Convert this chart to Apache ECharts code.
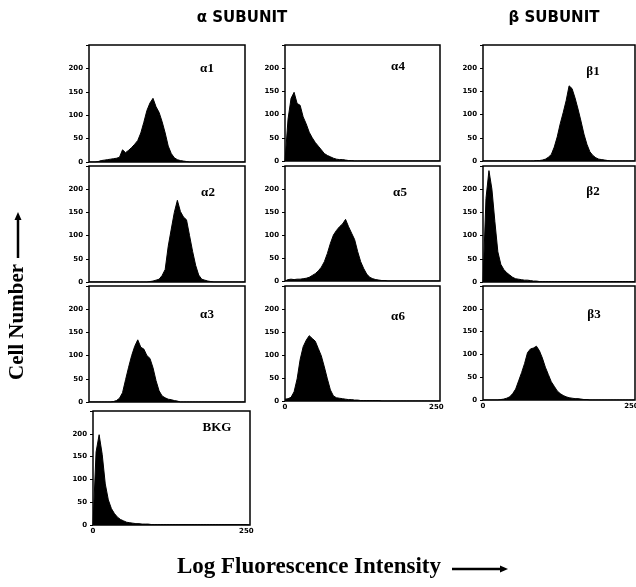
<!DOCTYPE html>
<html>
<head>
<meta charset="utf-8">
<script src="https://cdn.jsdelivr.net/npm/echarts@6/dist/echarts.min.js"></script>
<style>
  html, body { margin: 0; padding: 0; background: #fff; }
  #chart { width: 636px; height: 587px; }
</style>
</head>
<body>
<div id="chart"></div>
<script>
// histogram bin starts (log fluorescence channel)
var bins = [0,5,10,15,20,25,30,35,40,45, 50,55,60,65,70,75,80,85,90,95,
            100,105,110,115,120,125,130,135,140,145, 150,155,160,165,170,175,180,185,190,195,
            200,205,210,215,220,225,230,235,240,245, 250,255];

// cell counts per bin
var alpha1 = [0,0,0,1,3,4,5,6,7,8, 10,26,20,25,31,38,46,62,85,110, 126,136,118,106,86,62,34,18,9,5, 3,2,1,0,0,0,0,0,0,0, 0,0,0,0,0,0,0,0,0,0, 0,0];
var alpha2 = [0,0,0,0,0,0,0,0,0,0, 0,0,0,0,0,0,0,0,0,0, 1,2,4,6,14,27,77,114,150,176, 152,140,134,100,66,36,15,6,4,2, 1,0,0,0,0,0,0,0,0,0, 0,0];
var alpha3 = [0,0,0,0,0,0,0,0,1,3, 8,20,48,75,100,120,134,118,114,100, 94,74,46,24,13,9,6,5,3,2, 0,0,0,0,0,0,0,0,0,0, 0,0,0,0,0,0,0,0,0,0, 0,0];
var bkg    = [0,160,198,155,90,55,36,25,17,12, 9,6,5,4,3,3,2,2,2,1, 1,1,1,1,1,1,1,1,1,1, 1,1,1,1,1,1,1,1,1,1, 1,1,1,1,1,1,1,1,1,1, 1,0];
var alpha4 = [0,90,135,148,124,120,95,80,62,50, 40,32,24,16,12,9,6,4,3,3, 2,1,1,0,0,0,0,0,0,0, 0,0,0,0,0,0,0,0,0,0, 0,0,0,0,0,0,0,0,0,0, 0,0];
var alpha5 = [0,3,4,3,4,4,5,6,8,12, 16,22,30,42,60,82,100,110,118,124, 134,118,104,90,64,42,27,15,8,5, 3,2,1,1,0,0,0,0,0,0, 0,0,0,0,0,0,0,0,0,0, 0,0];
var alpha6 = [4,5,8,20,48,90,118,132,142,136, 130,114,98,74,48,24,11,7,6,5, 4,3,3,2,2,1,1,1,1,1, 1,1,0,0,0,0,0,0,0,0, 0,0,0,0,0,0,0,0,0,0, 0,0];
var beta1  = [0,0,0,0,0,0,0,0,0,0, 0,0,0,0,0,0,0,0,1,1, 2,4,8,14,30,52,80,104,130,162, 156,136,112,86,58,36,20,12,7,4, 3,2,1,0,0,0,0,0,0,0, 0,0];
var beta2  = [0,180,240,200,130,65,38,27,20,15, 10,7,6,5,4,4,3,2,2,1, 1,1,1,1,1,1,1,1,1,1, 1,1,1,1,1,1,1,1,1,1, 1,1,1,1,1,1,1,1,1,1, 1,1];
var beta3  = [0,0,0,0,0,0,1,2,4,7, 14,24,42,60,80,104,112,114,118,108, 92,72,56,40,30,20,14,10,7,5, 4,3,3,2,1,1,0,0,0,0, 0,0,0,0,0,0,0,0,0,0, 0,0];

var yTickLabels = [0, 50, 100, 150, 200];
var xTickLabels = [0, 250];

// panel layout
var panels = [
  { label: 'α1',  data: alpha1, left: 89,  top: 45,  width: 156, height: 117, xLab: false, lx: 207, ly: 69 },
  { label: 'α2',  data: alpha2, left: 89,  top: 166, width: 156, height: 116, xLab: false, lx: 208, ly: 193 },
  { label: 'α3',  data: alpha3, left: 89,  top: 286, width: 156, height: 116, xLab: false, lx: 207, ly: 315 },
  { label: 'BKG', data: bkg,    left: 93,  top: 411, width: 157, height: 114, xLab: true,  lx: 217, ly: 428 },
  { label: 'α4',  data: alpha4, left: 285, top: 45,  width: 155, height: 116, xLab: false, lx: 398, ly: 67 },
  { label: 'α5',  data: alpha5, left: 285, top: 166, width: 155, height: 115, xLab: false, lx: 400, ly: 193 },
  { label: 'α6',  data: alpha6, left: 285, top: 286, width: 155, height: 115, xLab: true,  lx: 398, ly: 317 },
  { label: 'β1',  data: beta1,  left: 483, top: 45,  width: 152, height: 116, xLab: false, lx: 593, ly: 72 },
  { label: 'β2',  data: beta2,  left: 483, top: 166, width: 152, height: 116, xLab: false, lx: 593, ly: 192 },
  { label: 'β3',  data: beta3,  left: 483, top: 286, width: 152, height: 114, xLab: true,  lx: 594, ly: 315 }
];

var tickFont = { color: '#000', fontSize: 7, fontWeight: 'bold', fontFamily: 'DejaVu Sans' };

var grid = [], xAxis = [], yAxis = [], series = [], graphic = [];

panels.forEach(function (p, i) {
  grid.push({
    left: p.left, top: p.top, width: p.width, height: p.height,
    outerBoundsMode: 'none', containLabel: false,
    show: true, borderColor: '#000', borderWidth: 1.5, backgroundColor: '#fff'
  });
  xAxis.push({
    type: 'value', gridIndex: i, min: 0, max: 256, interval: 250,
    axisLine: { show: false }, axisTick: { show: false }, splitLine: { show: false },
    axisLabel: Object.assign({
      show: p.xLab, margin: 3,
      formatter: function (v) { return xTickLabels.indexOf(v) >= 0 ? String(v) : ''; }
    }, tickFont)
  });
  yAxis.push({
    type: 'value', gridIndex: i, min: 0, max: 250, interval: 50,
    axisLine: { show: false },
    axisTick: { show: true, length: 3, lineStyle: { color: '#000', width: 1 } },
    splitLine: { show: false },
    axisLabel: Object.assign({
      margin: 6,
      formatter: function (v) { return yTickLabels.indexOf(v) >= 0 ? String(v) : ''; }
    }, tickFont)
  });
  series.push({
    name: p.label,
    type: 'line',
    xAxisIndex: i, yAxisIndex: i,
    symbol: 'none',
    data: bins.map(function (x, k) { return [x, p.data[k]]; }),
    lineStyle: { color: '#000', width: 1 },
    areaStyle: { color: '#000', opacity: 1 }
  });
  graphic.push({
    type: 'text', x: p.lx, y: p.ly,
    style: {
      text: p.label, fill: '#000',
      font: 'bold 13px "Liberation Serif", serif',
      textAlign: 'center', textVerticalAlign: 'middle',
      align: 'center', verticalAlign: 'middle'
    }
  });
});

// headings and axis titles
graphic.push(
  { type: 'text', x: 242, y: 18, style: { text: 'α SUBUNIT', fill: '#000', font: 'bold 15px "DejaVu Sans", sans-serif', textAlign: 'center', textVerticalAlign: 'middle', align: 'center', verticalAlign: 'middle' } },
  { type: 'text', x: 554, y: 18, style: { text: 'β SUBUNIT', fill: '#000', font: 'bold 15px "DejaVu Sans", sans-serif', textAlign: 'center', textVerticalAlign: 'middle', align: 'center', verticalAlign: 'middle' } },
  { type: 'text', x: 309, y: 567, style: { text: 'Log Fluorescence Intensity', fill: '#000', font: 'bold 23px "Liberation Serif", serif', textAlign: 'center', textVerticalAlign: 'middle', align: 'center', verticalAlign: 'middle' } },
  { type: 'line', shape: { x1: 452, y1: 569, x2: 502, y2: 569 }, style: { stroke: '#000', lineWidth: 2.5 } },
  { type: 'polygon', shape: { points: [[500, 565.5], [508, 569], [500, 572.5]] }, style: { fill: '#000' } },
  { type: 'text', x: 18, y: 322, rotation: Math.PI / 2, style: { text: 'Cell Number', fill: '#000', font: 'bold 21px "Liberation Serif", serif', textAlign: 'center', textVerticalAlign: 'middle', align: 'center', verticalAlign: 'middle' } },
  { type: 'line', shape: { x1: 18, y1: 258, x2: 18, y2: 218 }, style: { stroke: '#000', lineWidth: 2.5 } },
  { type: 'polygon', shape: { points: [[14.5, 220], [18, 212], [21.5, 220]] }, style: { fill: '#000' } }
);

var chart = echarts.init(document.getElementById('chart'));
chart.setOption({
  animation: false,
  backgroundColor: '#fff',
  grid: grid,
  xAxis: xAxis,
  yAxis: yAxis,
  series: series,
  graphic: graphic
});
</script>
</body>
</html>
